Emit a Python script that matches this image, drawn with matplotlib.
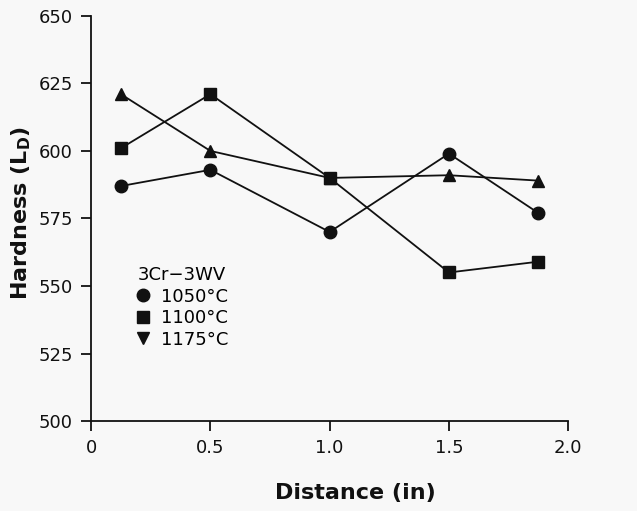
import matplotlib
matplotlib.use("Agg")
import matplotlib.pyplot as plt
from matplotlib.lines import Line2D

# Hardness traverse, 3Cr-3WV steel, three austenitizing temperatures
distance = [0.125, 0.5, 1.0, 1.5, 1.875]
hard_1050 = [587, 593, 570, 599, 577]
hard_1100 = [601, 621, 590, 555, 559]
hard_1175 = [621, 600, 590, 591, 589]

x_ticks = [0, 0.5, 1.0, 1.5, 2.0]
x_tick_labels = ["0", "0.5", "1.0", "1.5", "2.0"]
y_ticks = [500, 525, 550, 575, 600, 625, 650]

plt.rcParams["font.family"] = ["DejaVu Sans"]
plt.rcParams["mathtext.fontset"] = "dejavusans"

fig = plt.figure(figsize=(6.37, 5.11), dpi=100)
fig.patch.set_facecolor("#f8f8f8")
ax = fig.add_axes([0.143, 0.176, 0.749, 0.793])
ax.set_facecolor("#f8f8f8")

ink = "#111111"
lw = 1.3
ax.plot(distance, hard_1050, color=ink, lw=lw, marker="o", ms=9, zorder=3)
ax.plot(distance, hard_1100, color=ink, lw=lw, marker="s", ms=9, zorder=3)
ax.plot(distance, hard_1175, color=ink, lw=lw, marker="^", ms=9, zorder=3)

ax.set_xlim(0, 2.0)
ax.set_ylim(500, 650)
ax.set_xticks(x_ticks)
ax.set_xticklabels(x_tick_labels)
ax.set_yticks(y_ticks)

for side in ("top", "right"):
    ax.spines[side].set_visible(False)
for side in ("left", "bottom"):
    ax.spines[side].set_linewidth(1.3)
    ax.spines[side].set_color(ink)
ax.tick_params(direction="out", length=7, width=1.3, color=ink,
               labelsize=13, labelcolor=ink, pad=6)

ax.set_xlabel("Distance (in)", fontsize=16, fontweight="bold", color=ink)
ax.xaxis.set_label_coords(0.553, -0.178)
ax.set_ylabel("Hardness (L$_\\mathbf{D}$)", fontsize=16, fontweight="bold", color=ink)
ax.yaxis.set_label_coords(-0.147, 0.514)
ax.xaxis.label.set_va("center")
ax.yaxis.label.set_va("center")

handles = [
    Line2D([], [], ls="none", marker="o", ms=9, color=ink),
    Line2D([], [], ls="none", marker="s", ms=9, color=ink),
    Line2D([], [], ls="none", marker="v", ms=8, color=ink),
]
leg = ax.legend(handles, ["1050°C", "1100°C", "1175°C"], title="3Cr\u22123WV",
                loc="upper left", bbox_to_anchor=(0.079, 0.405), frameon=False,
                fontsize=13, title_fontsize=13, handlelength=0.6,
                handletextpad=0.7, labelspacing=0.2, borderpad=0)
leg._legend_box.align = "left"

fig.savefig("out.png", dpi=100, facecolor=fig.get_facecolor())
